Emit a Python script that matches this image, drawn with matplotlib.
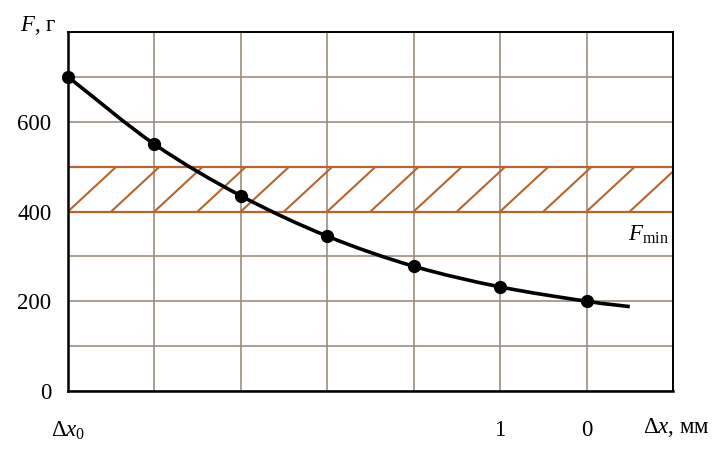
import numpy as np
import matplotlib
matplotlib.use("Agg")
import matplotlib.pyplot as plt
from matplotlib.path import Path
from matplotlib.patches import PathPatch

# Data
x_points = [0, 1, 2, 3, 4, 5, 6]
F_points = [700, 550, 435, 345, 278, 232, 200]
curve_x = [0, 1, 2, 3, 4, 5, 6, 6.5]
curve_F = [700, 550, 435, 345, 278, 232, 200, 188]
x_tick_pos = [0, 5, 6]
x_tick_labels = [r"$\Delta x_0$", "1", "0"]
y_ticks = [0, 200, 400, 600]
F_min_band = (400, 500)

plt.rcParams["font.family"] = ["Liberation Serif", "DejaVu Serif"]
plt.rcParams["mathtext.fontset"] = "custom"
plt.rcParams["mathtext.rm"] = "Liberation Serif"
plt.rcParams["mathtext.it"] = "Liberation Serif:italic"

GRID = "#9c8e7e"
HATCH = "#b8642e"
FS = 16.5

fig = plt.figure(figsize=(7.2, 4.49), dpi=100)
ax = fig.add_axes([0.0944, 0.1292, 0.8403, 0.7995])
ax.set_xlim(0, 7)
ax.set_ylim(0, 800)

# grid every column / every 100 g
ax.set_xticks(np.arange(0, 8, 1), minor=True)
ax.set_yticks(np.arange(0, 900, 100), minor=True)
ax.set_xticks(x_tick_pos)
ax.set_xticklabels(x_tick_labels)
ax.set_yticks(y_ticks)
ax.grid(which="both", color=GRID, lw=1.2)
ax.tick_params(which="both", length=0, labelsize=FS)
ax.tick_params(axis="x", pad=21)
ax.tick_params(axis="y", pad=12)

# F_min band with sparse hatching
lo, hi = F_min_band
ax.axhline(lo, color=HATCH, lw=1.6, zorder=2)
ax.axhline(hi, color=HATCH, lw=1.6, zorder=2)
for s in np.arange(0, 7, 0.5):
    ax.plot([s, s + 0.56], [lo, hi], color=HATCH, lw=1.5, zorder=2,
            solid_capstyle="butt")

# smooth curve (Catmull-Rom -> cubic Bezier through the points)
px = np.array(curve_x, float)
py = np.array(curve_F, float)
ext_x = np.concatenate([[2 * px[0] - px[1]], px, [2 * px[-1] - px[-2]]])
ext_y = np.concatenate([[2 * py[0] - py[1]], py, [2 * py[-1] - py[-2]]])
verts = [(px[0], py[0])]
codes = [Path.MOVETO]
for i in range(1, len(ext_x) - 2):
    p0 = np.array([ext_x[i - 1], ext_y[i - 1]])
    p1 = np.array([ext_x[i], ext_y[i]])
    p2 = np.array([ext_x[i + 1], ext_y[i + 1]])
    p3 = np.array([ext_x[i + 2], ext_y[i + 2]])
    c1 = p1 + (p2 - p0) / 6
    c2 = p2 - (p3 - p1) / 6
    verts += [tuple(c1), tuple(c2), tuple(p2)]
    codes += [Path.CURVE4] * 3
ax.add_patch(PathPatch(Path(verts, codes), fill=False, color="black",
                       lw=2.6, zorder=4, capstyle="butt"))
ax.plot(x_points, F_points, "o", color="black", ms=8.5, zorder=5, clip_on=False)

for side in ["left", "bottom"]:
    ax.spines[side].set_linewidth(1.8)
for side in ["top", "right"]:
    ax.spines[side].set_linewidth(1.4)

ax.text(6.95, 348, r"$F_{\rm min}$", fontsize=FS, ha="right", va="center")
fig.text(0.028, 0.944, r"$F$, г", fontsize=FS, ha="left", va="center")
fig.text(0.893, 0.048, r"$\Delta x$, мм", fontsize=FS, ha="left", va="center")

fig.savefig("out.png", dpi=100)
